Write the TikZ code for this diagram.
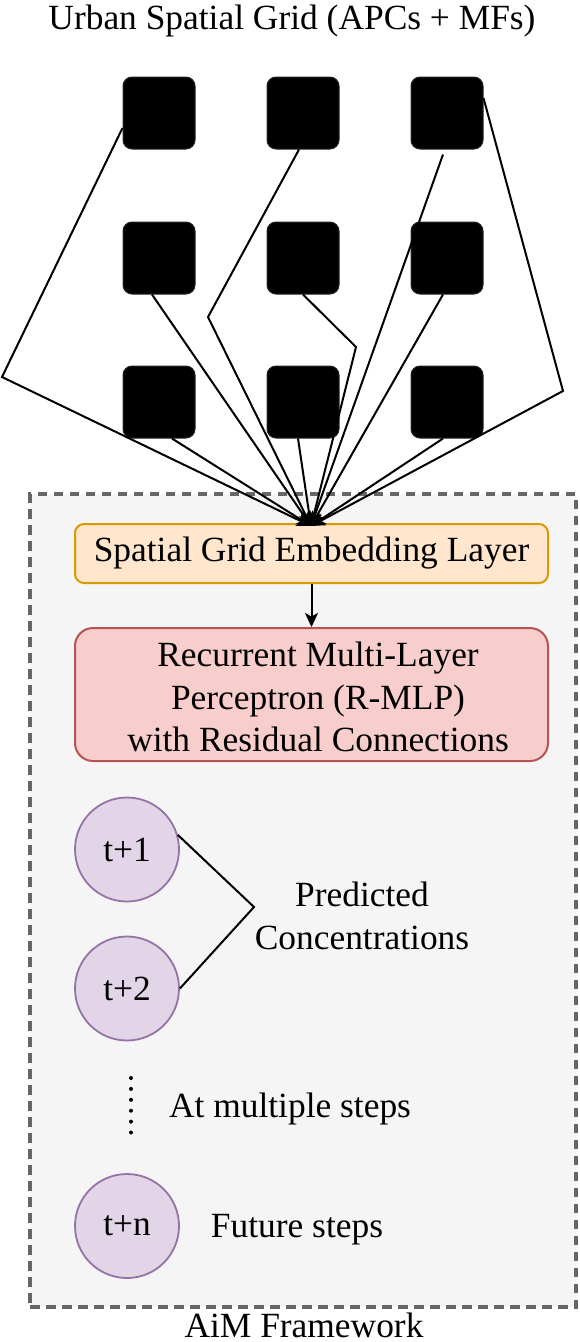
\documentclass[tikz,border=0pt]{standalone}
\usepackage{fontspec}
\setmainfont{Liberation Serif}
\usetikzlibrary{arrows.meta,calc}
\definecolor{embfill}{HTML}{FFE6CC}
\definecolor{embline}{HTML}{D79B00}
\definecolor{recfill}{HTML}{F8CECC}
\definecolor{recline}{HTML}{B85450}
\definecolor{cfill}{HTML}{E1D5E7}
\definecolor{cline}{HTML}{9673A6}
\definecolor{frfill}{HTML}{F5F5F5}
\definecolor{frline}{HTML}{666666}
\tikzset{
  txt/.style={font=\fontsize{35.4pt}{42.5pt}\selectfont, inner sep=0pt},
  cell/.style={fill=black, draw=black!85, line width=1pt, rounded corners=9pt, minimum width=72pt, minimum height=72pt, inner sep=0pt},
  conn/.style={line width=2pt, -{Stealth[length=14pt,width=13pt,inset=3.5pt]}},
  plain/.style={line width=2pt},
  box/.style={txt, line width=2pt, minimum width=473pt, align=center},
  stepc/.style={txt, circle, fill=cfill, draw=cline, line width=1.8pt, minimum size=104pt},
  frame/.style={fill=frfill, draw=frline, line width=3.2pt, dash pattern=on 9.5pt off 6.5pt, minimum width=546pt, minimum height=813pt, inner sep=0pt}
}
\begin{document}
\begin{tikzpicture}[x=1pt,y=-1pt]
\useasboundingbox (0,0) rectangle (579,1342);
% framework container
\node[frame] (fw) at (303,900.5) {};
\node[txt, anchor=base] (fwlabel) at (304,1337) {AiM Framework};
% title
\node[txt, anchor=base] (title) at (292,29) {Urban Spatial Grid (APCs + MFs)};
% grid cells
\foreach \r/\y in {1/113,2/258,3/402}{
  \foreach \c/\x in {1/159,2/303,3/447}{
    \node[cell] (s\r\c) at (\x,\y) {};
  }
}
% boxes
\node[box, fill=embfill, draw=embline, rounded corners=9pt, minimum height=59pt] (emb) at (311.5,553.5) {Spatial Grid Embedding Layer};
\node[box, fill=recfill, draw=recline, rounded corners=18pt, minimum height=133pt] (rec) at (311.5,694.5) {};
\node[txt, align=center] (rectext) at (318,697) {Recurrent Multi-Layer\\Perceptron (R-MLP)\\with Residual Connections};
% bend points
\coordinate (conv) at (311,526);
\coordinate (b1) at (2,377);
\coordinate (b2) at (208,317);
\coordinate (b4) at (563,391);
\coordinate (b6) at (356,347);
% connectors from grid to embedding
\draw[conn] ([yshift=-15pt]s11.west) -- (b1) -- (conv);
\draw[conn] ([xshift=-4pt]s12.south) -- (b2) -- (conv);
\draw[conn] ([shift={(-4pt,-5pt)}]s13.south) -- (conv);
\draw[conn] ([yshift=15pt]s13.east) -- (b4) -- (conv);
\draw[conn] ([xshift=-7pt]s21.south) -- (conv);
\draw[conn] (s22.south) -- (b6) -- (conv);
\draw[conn] ([xshift=-4pt]s23.south) -- (conv);
\draw[conn] ([xshift=13pt]s31.south) -- (conv);
\draw[conn] ([xshift=-5pt]s32.south) -- (conv);
\draw[conn] ([xshift=-4pt]s33.south) -- (conv);
% embedding to R-MLP
\draw[conn] (emb.south) -- (rec.north);
% prediction steps
\node[stepc] (t1) at (127,849.5) {t+1};
\node[stepc] (t2) at (127,988.5) {t+2};
\node[stepc] (tn) at (127,1226) {t+n};
\coordinate (bv) at (254,907);
\draw[plain] (t1.16) -- (bv) -- (t2.east);
\node[txt, align=center] (pred) at (362,916) {Predicted\\Concentrations};
\coordinate (d1) at (131,1078);
\coordinate (d2) at (131,1133);
\draw[line width=4pt, line cap=round, dash pattern=on 0pt off 10.9pt] (d1) -- (d2);
\node[txt, anchor=base] (multi) at (290,1117) {At multiple steps};
\node[txt, anchor=base] (future) at (297,1237) {Future steps};
\end{tikzpicture}
\end{document}
